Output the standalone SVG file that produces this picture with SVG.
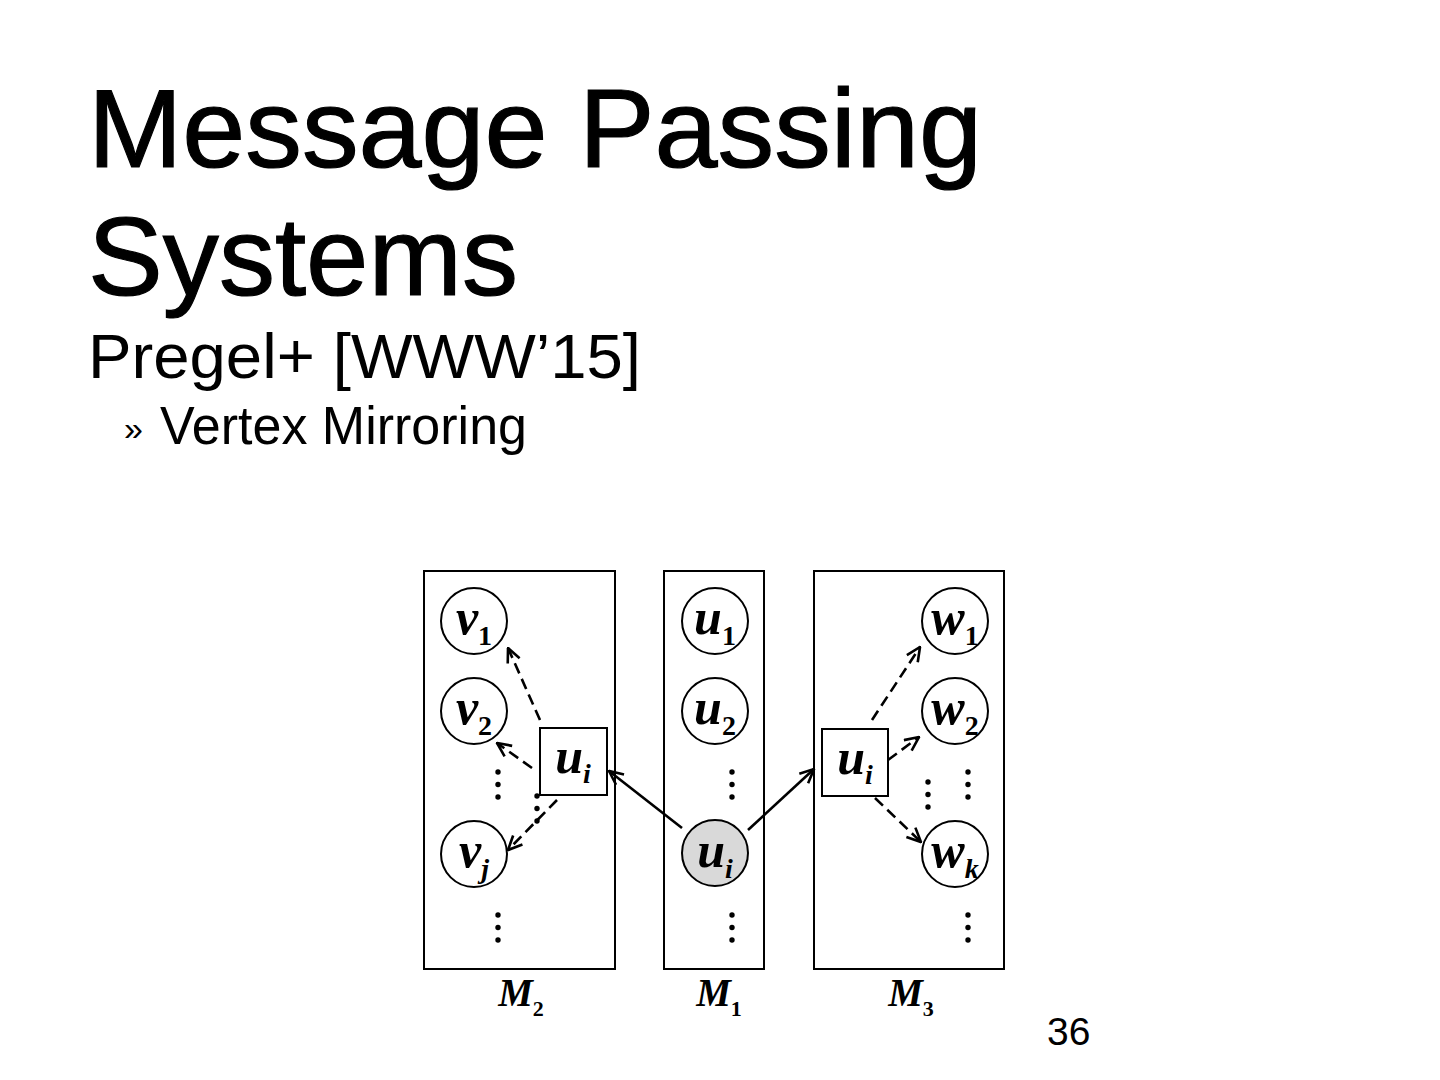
<svg xmlns="http://www.w3.org/2000/svg" width="1440" height="1080" viewBox="0 0 1440 1080">
<style>
.title{font-family:"Liberation Sans",Arial,sans-serif;fill:#000;stroke:#000;stroke-width:1.2}
.box{fill:none;stroke:#000;stroke-width:2}
.node{fill:#fff;stroke:#000;stroke-width:2}
.nlab{font-family:"Liberation Serif","Times New Roman",serif;font-weight:bold;font-style:italic;font-size:50px;fill:#000}
.sub{font-size:28px}
.subn{font-style:normal}
.dash{fill:none;stroke:#000;stroke-width:2.6;stroke-dasharray:11 6}
.solid{fill:none;stroke:#000;stroke-width:2.6}
.dot{fill:#000}
.mlab{font-family:"Liberation Serif","Times New Roman",serif;font-weight:bold;font-style:italic;font-size:39px;fill:#000}
</style>
<defs>
<marker id="arr" viewBox="0 0 16 16" refX="15" refY="8" markerWidth="16" markerHeight="16" markerUnits="userSpaceOnUse" orient="auto">
<path d="M1,1.5 L15,8 L1,14.5" fill="none" stroke="#000" stroke-width="2.6" stroke-dasharray="none"/>
</marker>
<g id="vdots"><circle cx="0" cy="0" r="2.7"/><circle cx="0" cy="12.5" r="2.7"/><circle cx="0" cy="25" r="2.7"/></g>
</defs>
<rect width="1440" height="1080" fill="#fff"/>

<g id="titles">
<text class="title" x="88" y="167" font-size="112" textLength="894" lengthAdjust="spacingAndGlyphs">Message Passing</text>
<text class="title" x="88" y="295" font-size="112" textLength="430" lengthAdjust="spacingAndGlyphs">Systems</text>
<text class="title" x="88" y="378" font-size="63" textLength="553" lengthAdjust="spacingAndGlyphs" style="stroke-width:0">Pregel+ [WWW’15]</text>
<text class="title" x="124" y="440" font-size="34" style="stroke-width:0">»</text>
<text class="title" x="160" y="444" font-size="54" textLength="367" lengthAdjust="spacingAndGlyphs" style="stroke-width:0">Vertex Mirroring</text>
<text class="title" x="1047" y="1045" font-size="39" style="stroke-width:0">36</text>
</g>

<g id="machines">
<rect id="M2" class="box" x="424" y="571" width="191" height="398"/>
<rect id="M1" class="box" x="664" y="571" width="100" height="398"/>
<rect id="M3" class="box" x="814" y="571" width="190" height="398"/>
</g>

<g id="connectors">
<line class="dash" x1="540" y1="720" x2="508" y2="648" marker-end="url(#arr)"/>
<line class="dash" x1="532" y1="768" x2="497" y2="743" marker-end="url(#arr)"/>
<line class="dash" x1="557" y1="800" x2="508" y2="850" marker-end="url(#arr)"/>
<line class="solid" x1="682" y1="828" x2="609" y2="771" marker-end="url(#arr)"/>
<line class="solid" x1="748" y1="830" x2="814" y2="769" marker-end="url(#arr)"/>
<line class="dash" x1="872" y1="720" x2="920" y2="647" marker-end="url(#arr)"/>
<line class="dash" x1="888" y1="760" x2="919" y2="737" marker-end="url(#arr)"/>
<line class="dash" x1="875" y1="798" x2="921" y2="842" marker-end="url(#arr)"/>
</g>

<g id="ellipses" class="dot">
<use href="#vdots" x="498" y="772"/>
<use href="#vdots" x="498" y="915"/>
<use href="#vdots" x="537" y="796"/>
<use href="#vdots" x="732" y="772"/>
<use href="#vdots" x="732" y="915"/>
<use href="#vdots" x="928" y="782"/>
<use href="#vdots" x="968" y="772"/>
<use href="#vdots" x="968" y="915"/>
</g>

<g id="v1"><circle class="node" cx="474" cy="621" r="33"/><text class="nlab" x="474" y="634" text-anchor="middle">v<tspan class="sub subn" dy="11">1</tspan></text></g>
<g id="v2"><circle class="node" cx="474" cy="711" r="33"/><text class="nlab" x="474" y="724" text-anchor="middle">v<tspan class="sub subn" dy="11">2</tspan></text></g>
<g id="vj"><circle class="node" cx="474" cy="854" r="33"/><text class="nlab" x="474" y="867" text-anchor="middle">v<tspan class="sub" dy="11">j</tspan></text></g>

<g id="u1"><circle class="node" cx="715" cy="621" r="33"/><text class="nlab" x="715" y="634" text-anchor="middle">u<tspan class="sub subn" dy="11">1</tspan></text></g>
<g id="u2"><circle class="node" cx="715" cy="711" r="33"/><text class="nlab" x="715" y="724" text-anchor="middle">u<tspan class="sub subn" dy="11">2</tspan></text></g>
<g id="ui"><circle class="node" cx="715" cy="853" r="33" style="fill:#d9d9d9"/><text class="nlab" x="715" y="867" text-anchor="middle">u<tspan class="sub" dy="11">i</tspan></text></g>

<g id="w1"><circle class="node" cx="955" cy="621" r="33"/><text class="nlab" x="955" y="634" text-anchor="middle">w<tspan class="sub subn" dy="11">1</tspan></text></g>
<g id="w2"><circle class="node" cx="955" cy="711" r="33"/><text class="nlab" x="955" y="724" text-anchor="middle">w<tspan class="sub subn" dy="11">2</tspan></text></g>
<g id="wk"><circle class="node" cx="955" cy="854" r="33"/><text class="nlab" x="955" y="867" text-anchor="middle">w<tspan class="sub" dy="11">k</tspan></text></g>

<g id="mirror-M2"><rect class="node" x="540" y="728" width="67" height="67"/><text class="nlab" x="573" y="773" text-anchor="middle">u<tspan class="sub" dy="10">i</tspan></text></g>
<g id="mirror-M3"><rect class="node" x="822" y="729" width="66" height="67"/><text class="nlab" x="855" y="774" text-anchor="middle">u<tspan class="sub" dy="10">i</tspan></text></g>

<g id="machine-labels">
<text class="mlab" x="521" y="1006" text-anchor="middle">M<tspan class="subn" font-size="22" dy="10">2</tspan></text>
<text class="mlab" x="719" y="1006" text-anchor="middle">M<tspan class="subn" font-size="22" dy="10">1</tspan></text>
<text class="mlab" x="911" y="1006" text-anchor="middle">M<tspan class="subn" font-size="22" dy="10">3</tspan></text>
</g>
</svg>
